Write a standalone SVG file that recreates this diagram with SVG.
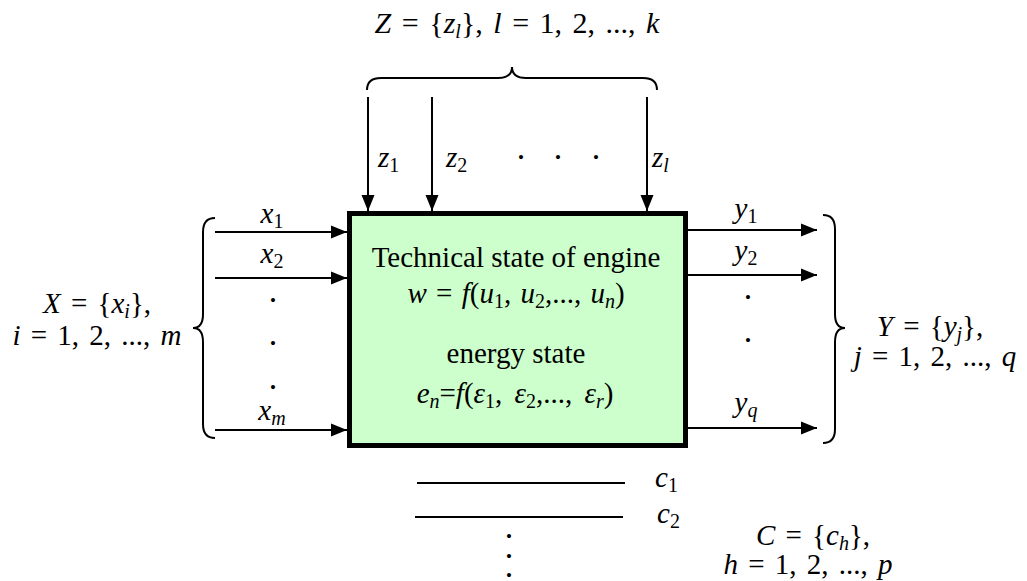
<svg xmlns="http://www.w3.org/2000/svg" width="1027" height="581" viewBox="0 0 1027 581">
<style>
text{font-family:"Liberation Serif","Times New Roman",serif;font-size:29px;fill:#000}
.i{font-style:italic}
.s{font-size:20px}
.f{word-spacing:3px}
.d{font-size:17px}
.ln{stroke:#000;stroke-width:2;fill:none}
.br{stroke:#000;stroke-width:2;fill:none}
</style>
<defs>
<marker id="ah" markerUnits="userSpaceOnUse" markerWidth="16" markerHeight="14" refX="16" refY="7" orient="auto">
<path d="M0,0.5 L16,7 L0,13.5 Z" fill="#000"/>
</marker>
</defs>
<rect width="1027" height="581" fill="#fff"/>
<g id="engine">
<rect x="349.5" y="213.5" width="336" height="232" fill="#CCFFCC" stroke="#000" stroke-width="5"/>
<text x="516" y="267" text-anchor="middle">Technical state of engine</text>
<text x="516" y="303" text-anchor="middle" style="word-spacing:2px"><tspan class="i">w</tspan> = <tspan class="i">f</tspan>(<tspan class="i">u</tspan><tspan class="s" dy="5">1</tspan><tspan dy="-5">, </tspan><tspan class="i">u</tspan><tspan class="s" dy="5">2</tspan><tspan dy="-5">,..., </tspan><tspan class="i">u</tspan><tspan class="s i" dy="5">n</tspan><tspan dy="-5">)</tspan></text>
<text x="516" y="363" text-anchor="middle">energy state</text>
<text x="515" y="403" text-anchor="middle" style="word-spacing:5px"><tspan class="i">e</tspan><tspan class="s i" dy="5">n</tspan><tspan dy="-5">=</tspan><tspan class="i">f</tspan>(<tspan class="i">ε</tspan><tspan class="s" dy="5">1</tspan><tspan dy="-5">, </tspan><tspan class="i">ε</tspan><tspan class="s" dy="5">2</tspan><tspan dy="-5">,..., </tspan><tspan class="i">ε</tspan><tspan class="s i" dy="5">r</tspan><tspan dy="-5">)</tspan></text>
</g>
<g id="connectors">
<line class="ln" x1="368" y1="97" x2="368" y2="211" marker-end="url(#ah)"/>
<line class="ln" x1="432" y1="97" x2="432" y2="211" marker-end="url(#ah)"/>
<line class="ln" x1="647" y1="97" x2="647" y2="211" marker-end="url(#ah)"/>
<line class="ln" x1="215" y1="232" x2="347" y2="232" marker-end="url(#ah)"/>
<line class="ln" x1="215" y1="278" x2="347" y2="278" marker-end="url(#ah)"/>
<line class="ln" x1="215" y1="430" x2="347" y2="430" marker-end="url(#ah)"/>
<line class="ln" x1="688" y1="230" x2="817" y2="230" marker-end="url(#ah)"/>
<line class="ln" x1="688" y1="275" x2="817" y2="275" marker-end="url(#ah)"/>
<line class="ln" x1="688" y1="428" x2="817" y2="428" marker-end="url(#ah)"/>
<line class="ln" x1="417" y1="483" x2="625" y2="483"/>
<line class="ln" x1="415" y1="517" x2="623" y2="517"/>
</g>
<g id="braces">
<path class="br" d="M367 90 Q367 78 381 78 L498 78 Q512 78 512 67 Q512 78 526 78 L643 78 Q657 78 657 90"/>
<path class="br" d="M215 218 Q203 218 203 232 L203 314 Q203 328 193 328 Q203 328 203 342 L203 424 Q203 438 215 438"/>
<path class="br" d="M823 215 Q835 215 835 229 L835 314 Q835 328 845 328 Q835 328 835 342 L835 429 Q835 443 823 443"/>
</g>
<g id="labels">
<text x="517" y="33" text-anchor="middle" class="f" style="font-size:30px"><tspan class="i">Z</tspan> = {<tspan class="i">z</tspan><tspan class="s i" dy="5">l</tspan><tspan dy="-5">}, </tspan><tspan class="i">l</tspan> = 1, 2, ..., <tspan class="i">k</tspan></text>
<text x="378" y="167"><tspan class="i">z</tspan><tspan class="s" dy="5">1</tspan></text>
<text x="446" y="167"><tspan class="i">z</tspan><tspan class="s" dy="5">2</tspan></text>
<text class="d" text-anchor="middle"><tspan x="521" y="163">•</tspan><tspan x="558" y="163">•</tspan><tspan x="596" y="163">•</tspan></text>
<text x="652" y="167"><tspan class="i">z</tspan><tspan class="s i" dy="5">l</tspan></text>
<text x="272" y="223" text-anchor="middle"><tspan class="i">x</tspan><tspan class="s" dy="5">1</tspan></text>
<text x="272" y="263" text-anchor="middle"><tspan class="i">x</tspan><tspan class="s" dy="5">2</tspan></text>
<text class="d" text-anchor="middle"><tspan x="273" y="306">•</tspan><tspan x="273" y="349">•</tspan><tspan x="273" y="393">•</tspan></text>
<text x="272" y="420" text-anchor="middle"><tspan class="i">x</tspan><tspan class="s i" dy="5">m</tspan></text>
<text text-anchor="middle" class="f"><tspan x="97" y="313" class="i">X</tspan> = {<tspan class="i">x</tspan><tspan class="s i" dy="5">i</tspan><tspan dy="-5">},</tspan><tspan x="97" y="345" class="i">i</tspan> = 1, 2, ..., <tspan class="i">m</tspan></text>
<text x="746" y="218" text-anchor="middle"><tspan class="i">y</tspan><tspan class="s" dy="5">1</tspan></text>
<text x="746" y="260" text-anchor="middle"><tspan class="i">y</tspan><tspan class="s" dy="5">2</tspan></text>
<text class="d" text-anchor="middle"><tspan x="748" y="303">•</tspan><tspan x="748" y="346">•</tspan></text>
<text x="746" y="412" text-anchor="middle"><tspan class="i">y</tspan><tspan class="s i" dy="5">q</tspan></text>
<text text-anchor="middle" class="f"><tspan x="930" y="336" class="i">Y</tspan> = {<tspan class="i">y</tspan><tspan class="s i" dy="5">j</tspan><tspan dy="-5">},</tspan><tspan x="935" y="366" class="i">j</tspan> = 1, 2, ..., <tspan class="i">q</tspan></text>
<text x="655" y="487"><tspan class="i">c</tspan><tspan class="s" dy="5">1</tspan></text>
<text x="657" y="523"><tspan class="i">c</tspan><tspan class="s" dy="5">2</tspan></text>
<text class="d" text-anchor="middle"><tspan x="509" y="542">•</tspan><tspan x="509" y="562">•</tspan><tspan x="509" y="581">•</tspan></text>
<text text-anchor="middle" class="f"><tspan x="813" y="545" class="i">C</tspan> = {<tspan class="i">c</tspan><tspan class="s i" dy="5">h</tspan><tspan dy="-5">},</tspan><tspan x="808" y="574" class="i">h</tspan> = 1, 2, ..., <tspan class="i">p</tspan></text>
</g>
</svg>
